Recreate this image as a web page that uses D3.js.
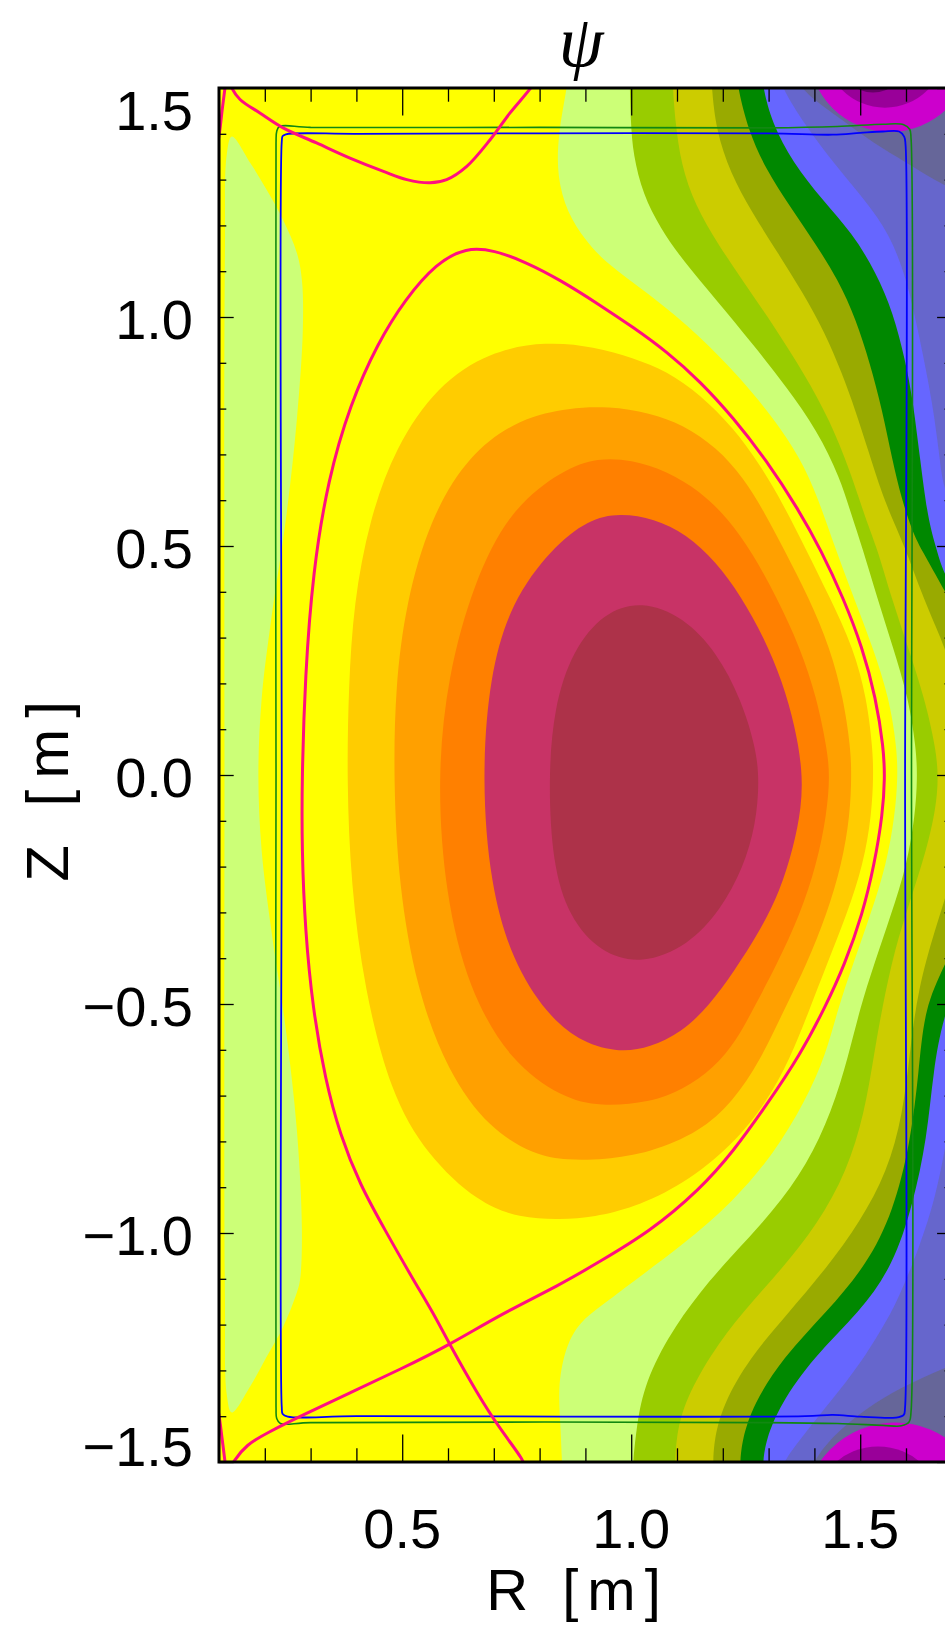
<!DOCTYPE html>
<html><head><meta charset="utf-8">
<script src="https://cdn.jsdelivr.net/npm/d3@7"></script>
<style>body{margin:0;background:#fff}svg{display:block}</style>
</head><body>
<svg id="chart" width="945" height="1631"></svg>
<script>
// ---------- axis data ----------
const majorR = [0.5, 1.0, 1.5];
const minorR = [0.2,0.3,0.4,0.6,0.7,0.8,0.9,1.1,1.2,1.3,1.4,1.6];
const majorZ = [-1.5,-1.0,-0.5,0,0.5,1.0,1.5];
const minorZ = [-1.4,-1.3,-1.2,-1.1,-0.9,-0.8,-0.7,-0.6,-0.4,-0.3,-0.2,-0.1,0.1,0.2,0.3,0.4,0.6,0.7,0.8,0.9,1.1,1.2,1.3,1.4];
const rLabels = ["0.5","1.0","1.5"];
const zLabels = ["\u22121.5","\u22121.0","\u22120.5","0.0","0.5","1.0","1.5"];

// ---------- contour boundaries of psi, [R, Z] in metres ----------
// closed core contours
const maroonRZ = [[1.023,0.381],[1.114,0.345],[1.187,0.268],[1.240,0.165],[1.272,0.060],[1.280,-0.013],[1.272,-0.108],[1.245,-0.202],[1.196,-0.294],[1.125,-0.372],[1.023,-0.414],[0.932,-0.388],[0.864,-0.310],[0.828,-0.193],[0.819,-0.011],[0.831,0.148],[0.872,0.272],[0.940,0.355]];
const crimsonRZ = [[0.975,0.572],[1.050,0.560],[1.120,0.526],[1.185,0.466],[1.240,0.390],[1.290,0.300],[1.330,0.205],[1.358,0.105],[1.374,0.010],[1.372,-0.071],[1.354,-0.159],[1.325,-0.253],[1.281,-0.341],[1.225,-0.428],[1.170,-0.504],[1.110,-0.562],[1.041,-0.595],[0.976,-0.606],[0.894,-0.586],[0.815,-0.523],[0.740,-0.405],[0.692,-0.239],[0.674,-0.011],[0.690,0.216],[0.738,0.378],[0.826,0.495],[0.906,0.558]];
const orangeRZ = [[0.928,0.693],[1.000,0.688],[1.078,0.664],[1.150,0.620],[1.212,0.560],[1.265,0.485],[1.318,0.387],[1.369,0.278],[1.405,0.169],[1.427,0.060],[1.434,0],[1.427,-0.086],[1.405,-0.195],[1.369,-0.304],[1.318,-0.414],[1.270,-0.504],[1.230,-0.580],[1.180,-0.640],[1.113,-0.687],[1.041,-0.715],[0.932,-0.724],[0.849,-0.705],[0.735,-0.625],[0.644,-0.466],[0.594,-0.261],[0.576,-0.011],[0.599,0.216],[0.656,0.420],[0.735,0.579],[0.849,0.666]];
const ltOrangeRZ = [[0.867,0.802],[0.950,0.805],[1.041,0.791],[1.113,0.765],[1.187,0.715],[1.245,0.649],[1.292,0.572],[1.335,0.490],[1.388,0.387],[1.434,0.278],[1.463,0.169],[1.479,0.060],[1.481,0],[1.478,-0.086],[1.460,-0.195],[1.427,-0.304],[1.383,-0.414],[1.335,-0.510],[1.281,-0.625],[1.222,-0.713],[1.150,-0.779],[1.041,-0.825],[0.940,-0.840],[0.860,-0.841],[0.790,-0.830],[0.690,-0.773],[0.599,-0.648],[0.531,-0.466],[0.492,-0.239],[0.481,-0.011],[0.485,0.193],[0.508,0.375],[0.560,0.557],[0.644,0.700],[0.758,0.780]];
const amberRZ = [[0.815,0.947],[0.920,0.935],[1.004,0.911],[1.078,0.882],[1.150,0.831],[1.223,0.758],[1.281,0.678],[1.332,0.591],[1.380,0.496],[1.434,0.387],[1.485,0.278],[1.514,0.169],[1.527,0.060],[1.529,0],[1.525,-0.086],[1.507,-0.195],[1.471,-0.304],[1.427,-0.414],[1.390,-0.510],[1.347,-0.620],[1.292,-0.720],[1.222,-0.807],[1.113,-0.895],[1.004,-0.945],[0.920,-0.965],[0.845,-0.971],[0.757,-0.967],[0.667,-0.935],[0.553,-0.829],[0.474,-0.693],[0.417,-0.466],[0.388,-0.239],[0.379,-0.011],[0.383,0.193],[0.394,0.375],[0.428,0.557],[0.485,0.716],[0.576,0.850],[0.690,0.925]];
// open contours, top edge -> bottom edge (region on their left is filled)
const yellowRZ = [[0.860,1.518],[0.860,1.501],[0.840,1.398],[0.838,1.306],[0.860,1.228],[0.899,1.169],[0.943,1.119],[1.041,1.049],[1.150,0.959],[1.238,0.867],[1.310,0.780],[1.369,0.693],[1.408,0.605],[1.445,0.496],[1.486,0.387],[1.528,0.278],[1.563,0.169],[1.580,0.060],[1.582,-0.006],[1.576,-0.087],[1.557,-0.197],[1.522,-0.306],[1.484,-0.414],[1.452,-0.508],[1.425,-0.611],[1.380,-0.713],[1.310,-0.829],[1.222,-0.932],[1.113,-1.026],[1.004,-1.106],[0.932,-1.161],[0.888,-1.194],[0.858,-1.244],[0.840,-1.331],[0.845,-1.408],[0.849,-1.500],[0.849,-1.518]];
const ltGreenRZ = [[0.997,1.518],[0.997,1.501],[0.999,1.428],[1.004,1.354],[1.026,1.267],[1.063,1.195],[1.113,1.123],[1.187,1.036],[1.266,0.940],[1.340,0.846],[1.406,0.752],[1.456,0.649],[1.480,0.570],[1.505,0.496],[1.537,0.387],[1.572,0.278],[1.605,0.169],[1.622,0.060],[1.625,-0.006],[1.620,-0.087],[1.602,-0.197],[1.567,-0.306],[1.530,-0.414],[1.500,-0.508],[1.475,-0.611],[1.438,-0.735],[1.384,-0.851],[1.310,-0.953],[1.222,-1.047],[1.150,-1.128],[1.078,-1.229],[1.026,-1.338],[1.011,-1.430],[1.004,-1.500],[1.004,-1.518]];
const yGreenRZ = [[1.091,1.518],[1.091,1.501],[1.096,1.428],[1.109,1.332],[1.139,1.245],[1.190,1.158],[1.249,1.071],[1.314,0.977],[1.379,0.874],[1.434,0.774],[1.478,0.664],[1.513,0.555],[1.537,0.496],[1.568,0.387],[1.605,0.278],[1.640,0.169],[1.665,0.060],[1.671,-0.006],[1.665,-0.075],[1.645,-0.163],[1.610,-0.272],[1.575,-0.381],[1.548,-0.508],[1.530,-0.611],[1.510,-0.735],[1.471,-0.866],[1.406,-0.982],[1.331,-1.076],[1.244,-1.172],[1.172,-1.266],[1.113,-1.375],[1.098,-1.452],[1.096,-1.500],[1.096,-1.518]];
const oYellowRZ = [[1.176,1.518],[1.176,1.501],[1.185,1.409],[1.216,1.315],[1.264,1.228],[1.320,1.140],[1.375,1.053],[1.423,0.966],[1.460,0.878],[1.489,0.798],[1.517,0.710],[1.548,0.612],[1.576,0.546],[1.598,0.496],[1.631,0.405],[1.663,0.328],[1.696,0.252],[1.722,0.121],[1.731,0.001],[1.722,-0.119],[1.696,-0.239],[1.663,-0.337],[1.626,-0.469],[1.609,-0.600],[1.593,-0.742],[1.559,-0.866],[1.500,-0.975],[1.427,-1.076],[1.340,-1.178],[1.259,-1.272],[1.200,-1.375],[1.181,-1.452],[1.179,-1.500],[1.179,-1.518]];
const oliveRZ = [[1.233,1.518],[1.233,1.501],[1.255,1.409],[1.294,1.322],[1.347,1.241],[1.401,1.162],[1.452,1.081],[1.491,0.994],[1.521,0.900],[1.548,0.798],[1.570,0.688],[1.591,0.601],[1.613,0.535],[1.631,0.496],[1.685,0.403],[1.751,0.274],[1.783,0.001],[1.751,-0.272],[1.685,-0.414],[1.640,-0.508],[1.628,-0.648],[1.609,-0.807],[1.572,-0.953],[1.515,-1.069],[1.427,-1.172],[1.331,-1.272],[1.266,-1.375],[1.242,-1.452],[1.238,-1.500],[1.238,-1.518]];
const greenRZ = [[1.288,1.518],[1.288,1.501],[1.307,1.424],[1.353,1.337],[1.417,1.256],[1.482,1.184],[1.535,1.097],[1.572,1.009],[1.598,0.907],[1.615,0.819],[1.631,0.688],[1.648,0.557],[1.666,0.496],[1.685,0.426],[1.783,0.274],[1.827,0.001],[1.783,-0.272],[1.685,-0.502],[1.659,-0.648],[1.646,-0.792],[1.615,-0.938],[1.572,-1.070],[1.500,-1.172],[1.397,-1.272],[1.325,-1.375],[1.294,-1.452],[1.288,-1.500],[1.288,-1.518]];
const blueRZ = [[1.329,1.518],[1.329,1.501],[1.379,1.420],[1.445,1.332],[1.510,1.256],[1.565,1.180],[1.602,1.081],[1.626,0.972],[1.648,0.863],[1.663,0.776],[1.674,0.688],[1.685,0.595],[1.805,0.383],[1.871,0.001],[1.805,-0.491],[1.696,-0.753],[1.685,-0.818],[1.663,-0.927],[1.631,-1.026],[1.587,-1.135],[1.559,-1.190],[1.513,-1.266],[1.456,-1.343],[1.390,-1.423],[1.331,-1.500],[1.331,-1.518]];
const slateTopRZ = [[1.369,1.518],[1.369,1.501],[1.412,1.464],[1.467,1.426],[1.528,1.380],[1.602,1.337],[1.685,1.284],[1.805,1.234]];
const slateBotRZ = [[1.805,-1.244],[1.685,-1.294],[1.587,-1.338],[1.515,-1.382],[1.441,-1.441],[1.397,-1.500],[1.397,-1.518]];
// low-side island on the inboard edge
const leftBlobRZ = [[0.128,1.394],[0.168,1.337],[0.204,1.278],[0.240,1.212],[0.270,1.140],[0.281,1.081],[0.283,0.972],[0.270,0.776],[0.246,0.558],[0.214,0.340],[0.193,0.165],[0.186,-0.002],[0.193,-0.163],[0.214,-0.337],[0.246,-0.556],[0.270,-0.775],[0.281,-0.993],[0.277,-1.102],[0.270,-1.130],[0.240,-1.205],[0.204,-1.270],[0.168,-1.335],[0.128,-1.392],[0.117,-1.353],[0.113,-1.145],[0.112,0],[0.113,1.147],[0.117,1.355]];
// coil minima: [R, Z, radius]
const coilDiscs = [
  {R:1.565, Z:1.581, r:0.177, c:"#cc00cc"},
  {R:1.554, Z:1.589, r:0.132, c:"#990099"},
  {R:1.528, Z:1.560, r:0.070, c:"#660066"},
  {R:1.576, Z:-1.614, r:0.200, c:"#cc00cc"},
  {R:1.539, Z:-1.607, r:0.141, c:"#990099"}
];
// separatrix
const sepMainRZ = [[0.768,-1.517],[0.768,-1.499],[0.714,-1.429],[0.663,-1.349],[0.604,-1.244],[0.568,-1.175],[0.524,-1.102],[0.462,-0.993],[0.408,-0.895],[0.364,-0.785],[0.332,-0.665],[0.305,-0.512],[0.288,-0.338],[0.281,-0.163],[0.281,-0.010],[0.288,0.216],[0.305,0.444],[0.338,0.645],[0.386,0.809],[0.447,0.944],[0.506,1.038],[0.575,1.118],[0.640,1.152],[0.700,1.146],[0.770,1.120],[0.845,1.081],[0.932,1.026],[1.005,0.977],[1.078,0.924],[1.150,0.860],[1.223,0.780],[1.296,0.686],[1.365,0.580],[1.415,0.490],[1.463,0.387],[1.505,0.278],[1.534,0.169],[1.551,0.060],[1.554,-0.006],[1.549,-0.086],[1.531,-0.195],[1.505,-0.304],[1.466,-0.414],[1.425,-0.504],[1.369,-0.611],[1.296,-0.720],[1.223,-0.822],[1.150,-0.905],[1.041,-0.997],[0.932,-1.062],[0.845,-1.113],[0.714,-1.178],[0.604,-1.244],[0.495,-1.298],[0.386,-1.349],[0.277,-1.400],[0.204,-1.437],[0.160,-1.462],[0.131,-1.499],[0.124,-1.517]];
const sepUpperRZ = [[0.122,1.518],[0.128,1.500],[0.146,1.475],[0.190,1.445],[0.240,1.413],[0.313,1.380],[0.386,1.347],[0.459,1.318],[0.510,1.300],[0.561,1.293],[0.597,1.300],[0.641,1.329],[0.692,1.387],[0.735,1.445],[0.779,1.498],[0.792,1.518]];
const sepTopLeftRZ = [[0.091,1.365],[0.0985,1.387],[0.107,1.453],[0.113,1.500],[0.115,1.518]];
const sepBotLeftRZ = [[0.091,-1.364],[0.0985,-1.390],[0.107,-1.451],[0.113,-1.499],[0.115,-1.517]];
// vessel / limiter outlines
const vesselBlueRZ = [[0.246,1.399],[0.40,1.400],[0.80,1.401],[1.30,1.401],[1.44,1.398],[1.50,1.402],[1.55,1.405],[1.585,1.405],[1.596,1.394],[1.599,1.376],[1.598,0],[1.598,-1.380],[1.595,-1.397],[1.578,-1.403],[1.50,-1.401],[1.44,-1.397],[1.38,-1.400],[0.40,-1.400],[0.25,-1.401],[0.239,-1.395],[0.237,-1.380],[0.237,0],[0.237,1.383],[0.239,1.395]];
const vesselGreenRZ = [[0.232,1.416],[0.30,1.414],[0.80,1.414],[1.30,1.413],[1.45,1.416],[1.55,1.421],[1.595,1.420],[1.608,1.410],[1.611,1.39],[1.612,0],[1.611,-1.39],[1.607,-1.412],[1.59,-1.421],[1.55,-1.420],[1.45,-1.416],[1.30,-1.414],[0.30,-1.414],[0.234,-1.416],[0.226,-1.405],[0.2245,-1.38],[0.2245,0],[0.2245,1.38],[0.226,1.405]];

// ---------- drawing ----------
const svg = d3.select("#chart");
const x = d3.scaleLinear().domain([0.1, 1.7]).range([219, 951.8]);
const y = d3.scaleLinear().domain([-1.5, 1.5]).range([1462, 88]);

svg.append("defs").append("clipPath").attr("id","plotclip")
  .append("rect").attr("x",x(0.1)).attr("y",y(1.5))
  .attr("width",x(1.7)-x(0.1)).attr("height",y(-1.5)-y(1.5));

const smoothOpen = d3.line().x(d=>x(d[0])).y(d=>y(d[1])).curve(d3.curveBasis);
const smoothClosed = d3.line().x(d=>x(d[0])).y(d=>y(d[1])).curve(d3.curveBasisClosed);
const lineOpen = d3.line().x(d=>x(d[0])).y(d=>y(d[1])).curve(d3.curveCatmullRom.alpha(0.5));
const lineClosed = d3.line().x(d=>x(d[0])).y(d=>y(d[1])).curve(d3.curveCatmullRomClosed.alpha(0.5));
const outside = [[0.0,-1.6],[0.0,1.6]];
function openRegion(segs){
  let p = "";
  segs.forEach((s,i)=>{ const d = smoothOpen(s); p += (i===0 ? d : "L" + d.slice(1)); });
  outside.forEach(c=>{ p += "L" + x(c[0]) + "," + y(c[1]); });
  return p + "Z";
}

const plot = svg.append("g").attr("clip-path","url(#plotclip)");
plot.append("rect").attr("x",x(0.1)).attr("y",y(1.5))
  .attr("width",x(1.7)-x(0.1)).attr("height",y(-1.5)-y(1.5)).attr("fill","#666699");

plot.selectAll("ellipse.coil").data(coilDiscs).join("ellipse").attr("class","coil")
  .attr("cx",d=>x(d.R)).attr("cy",d=>y(d.Z))
  .attr("rx",d=>x(d.R+d.r)-x(d.R)).attr("ry",d=>y(d.Z-d.r)-y(d.Z))
  .attr("fill",d=>d.c);

const openLayers = [
  {segs:[slateTopRZ, slateBotRZ], c:"#6666cc"},
  {segs:[blueRZ], c:"#6666ff"},
  {segs:[greenRZ], c:"#008800"},
  {segs:[oliveRZ], c:"#99aa00"},
  {segs:[oYellowRZ], c:"#cccc00"},
  {segs:[yGreenRZ], c:"#99cc00"},
  {segs:[ltGreenRZ], c:"#ccff77"},
  {segs:[yellowRZ], c:"#ffff00"}
];
plot.selectAll("path.band").data(openLayers).join("path").attr("class","band")
  .attr("d",d=>openRegion(d.segs)).attr("fill",d=>d.c);

plot.append("path").attr("d",lineClosed(leftBlobRZ)).attr("fill","#ccff77");

const coreLayers = [
  {pts:amberRZ, c:"#ffcc00"},
  {pts:ltOrangeRZ, c:"#ffa000"},
  {pts:orangeRZ, c:"#ff8000"},
  {pts:crimsonRZ, c:"#c83366"},
  {pts:maroonRZ, c:"#ad3249"}
];
plot.selectAll("path.core").data(coreLayers).join("path").attr("class","core")
  .attr("d",d=>smoothClosed(d.pts)).attr("fill",d=>d.c);

plot.append("path").attr("d",lineClosed(vesselGreenRZ)).attr("fill","none")
  .attr("stroke","#118811").attr("stroke-width",1.6);
plot.append("path").attr("d",lineClosed(vesselBlueRZ)).attr("fill","none")
  .attr("stroke","#0000ff").attr("stroke-width",1.8);

plot.append("path").attr("d",smoothOpen(sepMainRZ)).attr("fill","none")
  .attr("stroke","#ff1080").attr("stroke-width",3);
[sepUpperRZ, sepTopLeftRZ, sepBotLeftRZ].forEach(s=>{
  plot.append("path").attr("d",lineOpen(s)).attr("fill","none")
    .attr("stroke","#ff1080").attr("stroke-width",3);
});

// ---------- axes ----------
function ticks(gen, vals, size, tr){
  const g = svg.append("g").attr("transform",tr)
    .call(gen.tickValues(vals).tickSize(size).tickFormat(""));
  g.select(".domain").remove();
  g.selectAll("line").attr("stroke","#000").attr("stroke-width",1.3);
}
ticks(d3.axisBottom(x), minorR, -13.7, `translate(0,${y(-1.5)})`);
ticks(d3.axisBottom(x), majorR, -27.5, `translate(0,${y(-1.5)})`);
ticks(d3.axisTop(x), minorR, -13.7, `translate(0,${y(1.5)})`);
ticks(d3.axisTop(x), majorR, -27.5, `translate(0,${y(1.5)})`);
ticks(d3.axisLeft(y), minorZ, -7.3, `translate(${x(0.1)},0)`);
ticks(d3.axisLeft(y), majorZ, -14.7, `translate(${x(0.1)},0)`);
ticks(d3.axisRight(y), minorZ, -7.3, `translate(${x(1.7)},0)`);
ticks(d3.axisRight(y), majorZ, -14.7, `translate(${x(1.7)},0)`);

svg.append("rect").attr("x",x(0.1)).attr("y",y(1.5))
  .attr("width",x(1.7)-x(0.1)).attr("height",y(-1.5)-y(1.5))
  .attr("fill","none").attr("stroke","#000").attr("stroke-width",3);

const font = "'Liberation Sans', Arial, sans-serif";
svg.selectAll("text.rl").data(majorR).join("text").attr("class","rl")
  .attr("x",d=>x(d)).attr("y",1548).attr("text-anchor","middle")
  .attr("font-family",font).attr("font-size",56).text((d,i)=>rLabels[i]);
svg.selectAll("text.zl").data(majorZ).join("text").attr("class","zl")
  .attr("x",193).attr("y",d=>y(d) + (d===1.5 ? 42 : d===-1.5 ? 4 : 22))
  .attr("text-anchor","end").attr("font-family",font).attr("font-size",56)
  .text((d,i)=>zLabels[i]);

svg.append("text").attr("x",578).attr("y",1610).attr("text-anchor","middle")
  .attr("font-family",font).attr("font-size",58).attr("letter-spacing",9).text("R [m]");
svg.append("text").attr("transform","translate(68,786) rotate(-90)").attr("text-anchor","middle")
  .attr("font-family",font).attr("font-size",60).attr("letter-spacing",11).text("Z [m]");
svg.append("text").attr("x",581).attr("y",66).attr("text-anchor","middle")
  .attr("font-family","'Liberation Serif', 'DejaVu Serif', serif").attr("font-style","italic")
  .attr("font-size",72).text("\u03c8");
</script>
</body></html>
